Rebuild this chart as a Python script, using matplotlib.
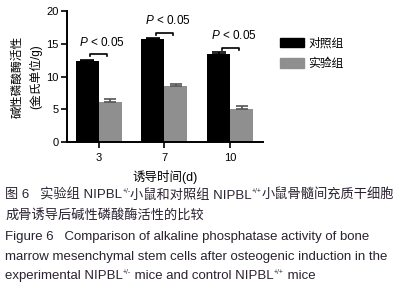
import numpy as np
import matplotlib
matplotlib.use("Agg")
import matplotlib.pyplot as plt
from matplotlib.patches import Patch

plt.rcParams['font.family'] = ['Liberation Sans', 'Noto Sans CJK SC']
plt.rcParams['mathtext.fontset'] = 'custom'
plt.rcParams['mathtext.it'] = 'Liberation Sans:italic'
plt.rcParams['mathtext.rm'] = 'Liberation Sans'

DAYS = ["3", "7", "10"]
CONTROL = [12.3, 15.7, 13.4]
CONTROL_ERR = [0.3, 0.25, 0.3]
EXPERIMENT = [6.05, 8.6, 5.0]
EXPERIMENT_ERR = [0.5, 0.25, 0.5]
P_TEXT = [r"$P$ < 0.05", r"$P$ < 0.05", r"$P$ < 0.05"]
BRACKET_Y = [13.4, 16.6, 14.4]
LABEL_Y = [15.2, 18.5, 16.3]
LEGEND = ["对照组", "实验组"]
Y_LABEL = "碱性磷酸酶活性\n(金氏单位/g)"
X_LABEL = "诱导时间(d)"
CAPTION_ZH = [
  [("图 6   实验组 NIPBL", 0), ("+/-", 1), ("小鼠和对照组 NIPBL", 0), ("+/+", 1), ("小鼠骨髓间充质干细胞", 0)],
  [("成骨诱导后碱性磷酸酶活性的比较", 0)],
]
CAPTION_EN = [
  [("Figure 6   Comparison of alkaline phosphatase activity of bone", 0)],
  [("marrow mesenchymal stem cells after osteogenic induction in the", 0)],
  [("experimental NIPBL", 0), ("+/-", 1), (" mice and control NIPBL", 0), ("+/+", 1), (" mice", 0)],
]

BLACK = "#000000"
GRAY = "#8f8f8f"
TXT = "#2a2230"

fig = plt.figure(figsize=(3.96, 2.85), dpi=100)
ax = fig.add_axes([0.169, 0.502, 0.495, 0.459])

x = np.arange(len(DAYS))
w = 0.35
ax.bar(x - w/2, CONTROL, w, color=BLACK,
       yerr=[np.zeros(3), CONTROL_ERR], error_kw=dict(ecolor=BLACK, capsize=5, elinewidth=1.2, capthick=1.2))
ax.bar(x + w/2, EXPERIMENT, w, color=GRAY,
       yerr=[np.zeros(3), EXPERIMENT_ERR], error_kw=dict(ecolor="#555555", capsize=4, elinewidth=1.2, capthick=1.2))

for i in range(len(DAYS)):
  xl, xr = x[i] - 0.13, x[i] + 0.13
  yb = BRACKET_Y[i]
  ax.plot([xl, xl, xr, xr], [yb - 0.3, yb, yb, yb - 0.3], color=BLACK, lw=1.2)
  ax.text(x[i] + 0.05, LABEL_Y[i], P_TEXT[i], ha="center", va="center", fontsize=8.5)

ax.set_xlim(-0.485, 2.5)
ax.set_ylim(0, 20)
ax.set_xticks(x)
ax.set_xticklabels(DAYS)
ax.set_yticks([0, 5, 10, 15, 20])
ax.tick_params(axis="both", labelsize=8, width=1.2, length=4, pad=2)
ax.tick_params(axis="x", pad=4)
for s in ["top", "right"]:
  ax.spines[s].set_visible(False)
for s in ["left", "bottom"]:
  ax.spines[s].set_linewidth(1.4)

ax.set_ylabel(Y_LABEL, fontsize=8.5, labelpad=3, linespacing=1.55)
ax.set_xlabel(X_LABEL, fontsize=9, labelpad=5)

handles = [Patch(color=BLACK), Patch(color=GRAY)]
fig.legend(handles, LEGEND, loc="upper left", bbox_to_anchor=(0.68, 0.905),
           frameon=False, fontsize=8.5, handlelength=2.0, handleheight=0.85,
           labelspacing=0.7, handletextpad=0.4)

renderer = fig.canvas.get_renderer()

def draw_runs(x0, y0, runs, size):
  xp = x0
  for txt, sup in runs:
    if sup:
      t = fig.text(xp, y0 + 0.02, txt, fontsize=size * 0.5, color=TXT, va="baseline")
    else:
      t = fig.text(xp, y0, txt, fontsize=size, color=TXT, va="baseline")
    bb = t.get_window_extent(renderer)
    xp += bb.width / fig.bbox.width

ys = [0.302, 0.232, 0.158, 0.088, 0.020]
lines = CAPTION_ZH + CAPTION_EN
for yy, runs in zip(ys, lines):
  draw_runs(0.013, yy, runs, 9.5)

fig.savefig("out.png", dpi=100)
